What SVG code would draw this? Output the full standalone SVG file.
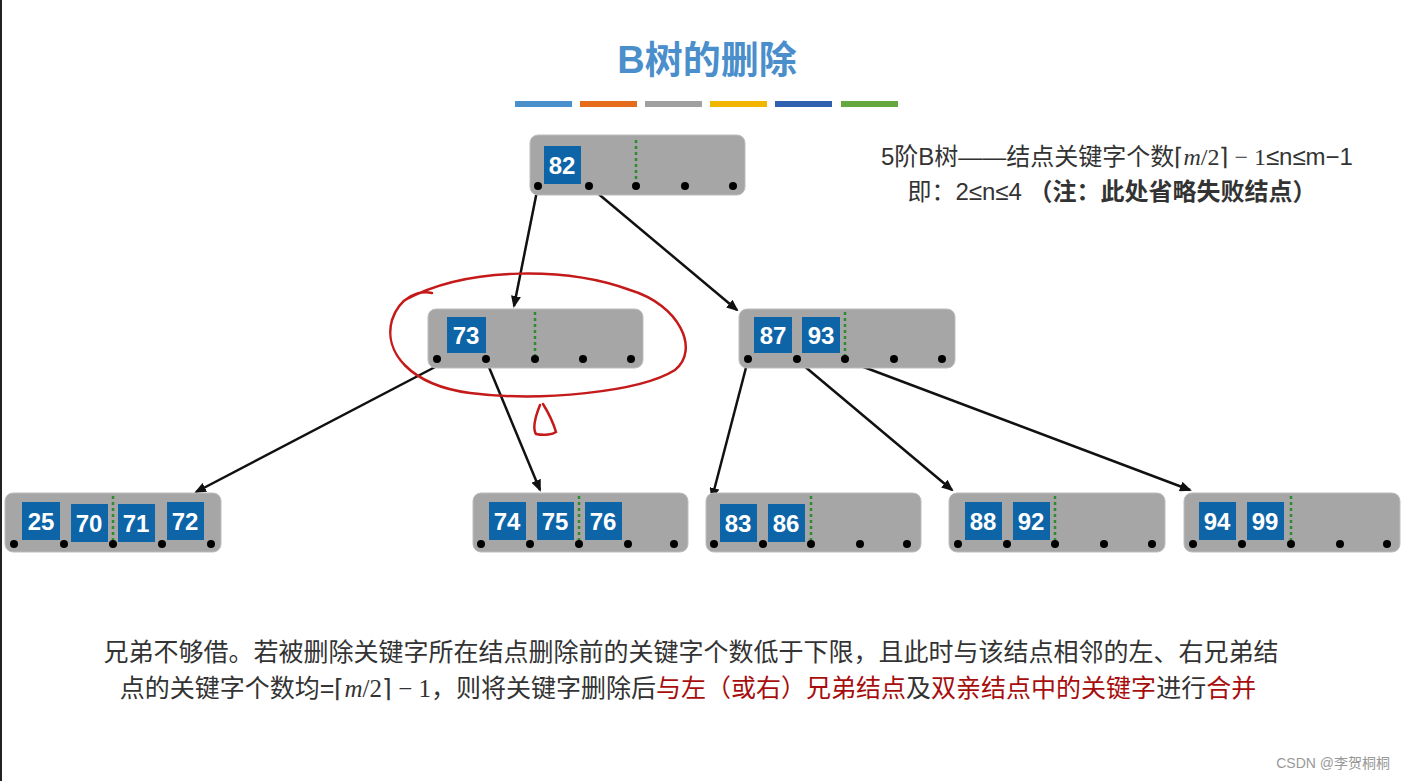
<svg xmlns="http://www.w3.org/2000/svg" width="1407" height="781" viewBox="0 0 1407 781">
<defs>
<style>
.nd{fill:#a6a6a6;stroke:#bdbdbd;stroke-width:1}
.k{fill:#0d65a8}
.kt{fill:#fff;font-family:"Liberation Sans",Arial,sans-serif;font-size:24px;font-weight:bold;text-anchor:middle}
.dot{fill:#000}
.dl{stroke:#2e8b2e;stroke-width:2.5;stroke-dasharray:3 3}
.cn{stroke:#111;stroke-width:2.5;fill:none;marker-end:url(#ah)}
.tx{font-family:"Liberation Sans","Noto Sans CJK SC",sans-serif;font-size:21px;fill:#333}
.red{fill:#a80d0d}
</style>
<marker id="ah" markerWidth="12" markerHeight="10" refX="10" refY="5" orient="auto" markerUnits="userSpaceOnUse"><path d="M0,0 L12,5 L0,10 z" fill="#111"/></marker>
</defs>
<rect width="1407" height="781" fill="#fff"/>
<line x1="1" y1="0" x2="1" y2="781" stroke="#222" stroke-width="2"/>
<text x="707" y="73" text-anchor="middle" font-family="Liberation Sans,'Noto Sans CJK SC',sans-serif" font-size="38" font-weight="bold" fill="#4a8fcc">B树的删除</text>
<g>
<rect x="515" y="101" width="57" height="6" fill="#4a8fcc"/>
<rect x="580" y="101" width="57" height="6" fill="#e46c1c"/>
<rect x="645" y="101" width="57" height="6" fill="#a0a0a0"/>
<rect x="710" y="101" width="57" height="6" fill="#f2b600"/>
<rect x="775" y="101" width="57" height="6" fill="#2f5fb0"/>
<rect x="841" y="101" width="57" height="6" fill="#62a83e"/>
</g>
<text class="tx" style="font-size:24px" x="1117" y="165" text-anchor="middle">5阶B树——结点关键字个数⌈<tspan font-family="Liberation Serif" font-style="italic">m</tspan><tspan font-family="Liberation Serif">/2⌉ − 1</tspan>≤n≤m−1</text>
<text class="tx" style="font-size:24px" x="1112" y="200" text-anchor="middle">即：2≤n≤4 <tspan font-weight="bold">（注：此处省略失败结点）</tspan></text>

<g id="connectors">
<line class="cn" x1="538" y1="186" x2="514" y2="306"/>
<line class="cn" x1="589" y1="186" x2="737" y2="310"/>
<line class="cn" x1="437" y1="366" x2="196" y2="492"/>
<line class="cn" x1="486" y1="360" x2="540" y2="490"/>
<line class="cn" x1="748" y1="360" x2="712" y2="498"/>
<line class="cn" x1="797" y1="360" x2="952" y2="490"/>
<line class="cn" x1="845" y1="360" x2="1190" y2="490"/>
</g>

<g id="n82"><rect class="nd" x="530" y="135" width="215" height="60" rx="8"/>
<rect class="k" x="544" y="146" width="37" height="38"/><text class="kt" x="562" y="174">82</text>
<line class="dl" x1="636" y1="140" x2="636" y2="184"/>
<circle class="dot" cx="538" cy="186" r="4"/><circle class="dot" cx="589" cy="186" r="4"/><circle class="dot" cx="636" cy="186" r="4"/><circle class="dot" cx="685" cy="186" r="4"/><circle class="dot" cx="733" cy="186" r="4"/></g>

<g id="n73"><rect class="nd" x="428" y="309" width="215" height="59" rx="8"/>
<rect class="k" x="447" y="317" width="39" height="36"/><text class="kt" x="466" y="344">73</text>
<line class="dl" x1="535" y1="312" x2="535" y2="357"/>
<circle class="dot" cx="437" cy="359" r="4"/><circle class="dot" cx="486" cy="359" r="4"/><circle class="dot" cx="535" cy="359" r="4"/><circle class="dot" cx="583" cy="359" r="4"/><circle class="dot" cx="631" cy="359" r="4"/></g>

<g id="n8793"><rect class="nd" x="739" y="309" width="216" height="59" rx="8"/>
<rect class="k" x="754" y="317" width="38" height="36"/><text class="kt" x="773" y="344">87</text>
<rect class="k" x="802" y="317" width="38" height="36"/><text class="kt" x="821" y="344">93</text>
<line class="dl" x1="845" y1="312" x2="845" y2="357"/>
<circle class="dot" cx="748" cy="359" r="4"/><circle class="dot" cx="797" cy="359" r="4"/><circle class="dot" cx="845" cy="359" r="4"/><circle class="dot" cx="894" cy="359" r="4"/><circle class="dot" cx="942" cy="359" r="4"/></g>

<g id="leaf1"><rect class="nd" x="5" y="493" width="216" height="59" rx="8"/>
<rect class="k" x="22" y="502" width="38" height="38"/><text class="kt" x="41" y="530">25</text>
<rect class="k" x="71" y="504" width="37" height="38"/><text class="kt" x="89" y="532">70</text>
<rect class="k" x="118" y="504" width="37" height="38"/><text class="kt" x="136" y="532">71</text>
<rect class="k" x="167" y="502" width="37" height="38"/><text class="kt" x="185" y="530">72</text>
<line class="dl" x1="113" y1="496" x2="113" y2="542"/>
<circle class="dot" cx="14" cy="544" r="4"/><circle class="dot" cx="64" cy="544" r="4"/><circle class="dot" cx="113" cy="544" r="4"/><circle class="dot" cx="162" cy="544" r="4"/><circle class="dot" cx="211" cy="544" r="4"/></g>

<g id="leaf2"><rect class="nd" x="473" y="493" width="215" height="59" rx="8"/>
<rect class="k" x="489" y="502" width="37" height="38"/><text class="kt" x="507" y="530">74</text>
<rect class="k" x="537" y="502" width="37" height="38"/><text class="kt" x="555" y="530">75</text>
<rect class="k" x="585" y="502" width="37" height="38"/><text class="kt" x="603" y="530">76</text>
<line class="dl" x1="579" y1="496" x2="579" y2="542"/>
<circle class="dot" cx="481" cy="544" r="4"/><circle class="dot" cx="530" cy="544" r="4"/><circle class="dot" cx="579" cy="544" r="4"/><circle class="dot" cx="628" cy="544" r="4"/><circle class="dot" cx="674" cy="544" r="4"/></g>

<g id="leaf3"><rect class="nd" x="706" y="493" width="215" height="59" rx="8"/>
<rect class="k" x="720" y="504" width="37" height="38"/><text class="kt" x="738" y="532">83</text>
<rect class="k" x="768" y="504" width="37" height="38"/><text class="kt" x="786" y="532">86</text>
<line class="dl" x1="811" y1="496" x2="811" y2="542"/>
<circle class="dot" cx="714" cy="544" r="4"/><circle class="dot" cx="763" cy="544" r="4"/><circle class="dot" cx="811" cy="544" r="4"/><circle class="dot" cx="860" cy="544" r="4"/><circle class="dot" cx="907" cy="544" r="4"/></g>

<g id="leaf4"><rect class="nd" x="949" y="493" width="216" height="59" rx="8"/>
<rect class="k" x="965" y="502" width="37" height="38"/><text class="kt" x="983" y="530">88</text>
<rect class="k" x="1013" y="502" width="37" height="38"/><text class="kt" x="1031" y="530">92</text>
<line class="dl" x1="1055" y1="496" x2="1055" y2="542"/>
<circle class="dot" cx="958" cy="544" r="4"/><circle class="dot" cx="1007" cy="544" r="4"/><circle class="dot" cx="1055" cy="544" r="4"/><circle class="dot" cx="1104" cy="544" r="4"/><circle class="dot" cx="1152" cy="544" r="4"/></g>

<g id="leaf5"><rect class="nd" x="1184" y="493" width="216" height="59" rx="8"/>
<rect class="k" x="1199" y="502" width="37" height="38"/><text class="kt" x="1217" y="530">94</text>
<rect class="k" x="1247" y="502" width="37" height="38"/><text class="kt" x="1265" y="530">99</text>
<line class="dl" x1="1291" y1="496" x2="1291" y2="542"/>
<circle class="dot" cx="1193" cy="544" r="4"/><circle class="dot" cx="1242" cy="544" r="4"/><circle class="dot" cx="1291" cy="544" r="4"/><circle class="dot" cx="1340" cy="544" r="4"/><circle class="dot" cx="1387" cy="544" r="4"/></g>

<g fill="none" stroke="#c41a1a" stroke-width="2.5" stroke-linecap="round">
<path d="M432,293 C420,290 400,296 392,320 C383,352 410,385 470,393 C540,402 640,392 675,370 C700,350 680,305 630,290 C570,268 470,265 405,300"/>
<path d="M540,405 C536,415 532,428 536,434 C545,436 553,434 556,432 C553,422 548,412 543,404"/>
</g>

<text class="tx" style="font-size:25px" x="691" y="661" text-anchor="middle">兄弟不够借。若被删除关键字所在结点删除前的关键字个数低于下限，且此时与该结点相邻的左、右兄弟结</text>
<text class="tx" style="font-size:25px" x="688" y="697" text-anchor="middle">点的关键字个数均=⌈<tspan font-family="Liberation Serif" font-style="italic">m</tspan><tspan font-family="Liberation Serif">/2⌉ − 1</tspan>，则将关键字删除后<tspan class="red">与左（或右）兄弟结点</tspan>及<tspan class="red">双亲结点中的关键字</tspan>进行<tspan class="red">合并</tspan></text>
<text x="1390" y="768" text-anchor="end" font-family="Liberation Sans,'Noto Sans CJK SC',sans-serif" font-size="14" fill="#999">CSDN @李贺桐桐</text>
</svg>
